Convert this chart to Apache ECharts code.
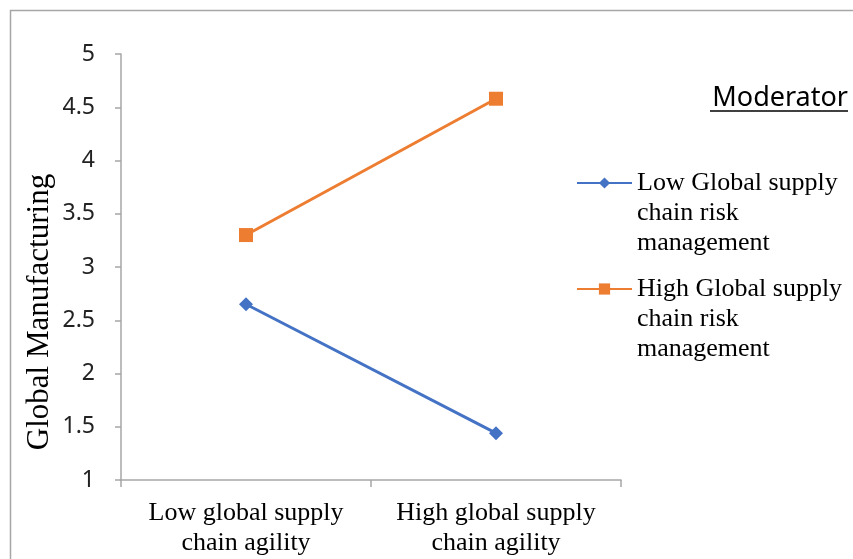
<!DOCTYPE html>
<html>
<head>
<meta charset="utf-8">
<script src="https://cdn.jsdelivr.net/npm/echarts@6/dist/echarts.min.js"></script>
<style>html,body{margin:0;padding:0;background:#fff;}#c{width:853px;height:559px;}</style>
</head>
<body>
<div id="c"></div>
<script>
var categories = ['Low global supply\nchain agility', 'High global supply\nchain agility'];
var lowRisk = [2.65, 1.44];
var highRisk = [3.30, 4.58];
var seriesNames = ['Low Global supply\nchain risk\nmanagement', 'High Global supply\nchain risk\nmanagement'];
var yTicks = [1, 1.5, 2, 2.5, 3, 3.5, 4, 4.5, 5];

var chart = echarts.init(document.getElementById('c'));
var legendText = {
  fontFamily: 'Liberation Serif', fontSize: 26, color: '#000', lineHeight: 30
};
chart.setOption({
  animation: false,
  graphic: [
    { type: 'rect', shape: { x: 10.5, y: 10.5, width: 900, height: 600 }, style: { fill: 'none', stroke: '#a6a6a6', lineWidth: 1.5 }, silent: true },
    { type: 'text', x: 40, y: 312, rotation: Math.PI / 2, style: { text: 'Global Manufacturing', font: '31px "Liberation Serif"', fill: '#000', align: 'center', verticalAlign: 'middle' } },
    { type: 'text', x: 848, y: 98, style: { text: 'Moderator', font: '27px "Noto Sans"', fill: '#000', align: 'right', verticalAlign: 'middle' } },
    { type: 'line', shape: { x1: 710, y1: 111, x2: 848, y2: 111 }, style: { stroke: '#000', lineWidth: 1.5 } }
  ],
  grid: { left: 121, right: 232, top: 54, bottom: 79 },
  xAxis: {
    type: 'category', data: categories, boundaryGap: true,
    axisLine: { lineStyle: { color: '#a6a6a6', width: 1.5 } },
    axisTick: { show: true, length: 7, interval: 0, lineStyle: { color: '#a6a6a6', width: 1.5 } },
    axisLabel: { interval: 0, hideOverlap: false, fontFamily: 'Liberation Serif', fontSize: 26, color: '#000', lineHeight: 30, margin: 18 }
  },
  yAxis: {
    type: 'value', min: 1, max: 5, interval: 0.5,
    splitLine: { show: false },
    axisLine: { show: true, lineStyle: { color: '#a6a6a6', width: 1.5 } },
    axisTick: { show: true, length: 6, inside: false, lineStyle: { color: '#a6a6a6', width: 1.5 } },
    axisLabel: { fontFamily: 'Noto Sans', fontSize: 23, color: '#222', margin: 26,
      formatter: function (v) { return yTicks.indexOf(v) >= 0 ? String(v) : ''; } }
  },
  legend: [
    { data: [seriesNames[0]], left: 576, top: 108, orient: 'vertical', itemWidth: 55, itemHeight: 14, itemGap: 0,
      formatter: function (n) { return '\n\n' + n; }, textStyle: legendText, padding: 0 },
    { data: [seriesNames[1]], left: 576, top: 214, orient: 'vertical', itemWidth: 55, itemHeight: 14, itemGap: 0,
      formatter: function (n) { return '\n\n' + n; }, textStyle: legendText, padding: 0 }
  ],
  series: [
    { name: seriesNames[0], type: 'line', data: lowRisk, symbol: 'diamond', symbolSize: 14,
      itemStyle: { color: '#4472C4' }, lineStyle: { color: '#4472C4', width: 3 } },
    { name: seriesNames[1], type: 'line', data: highRisk, symbol: 'rect', symbolSize: 14,
      itemStyle: { color: '#ED7D31' }, lineStyle: { color: '#ED7D31', width: 3 } }
  ]
});
</script>
</body>
</html>
